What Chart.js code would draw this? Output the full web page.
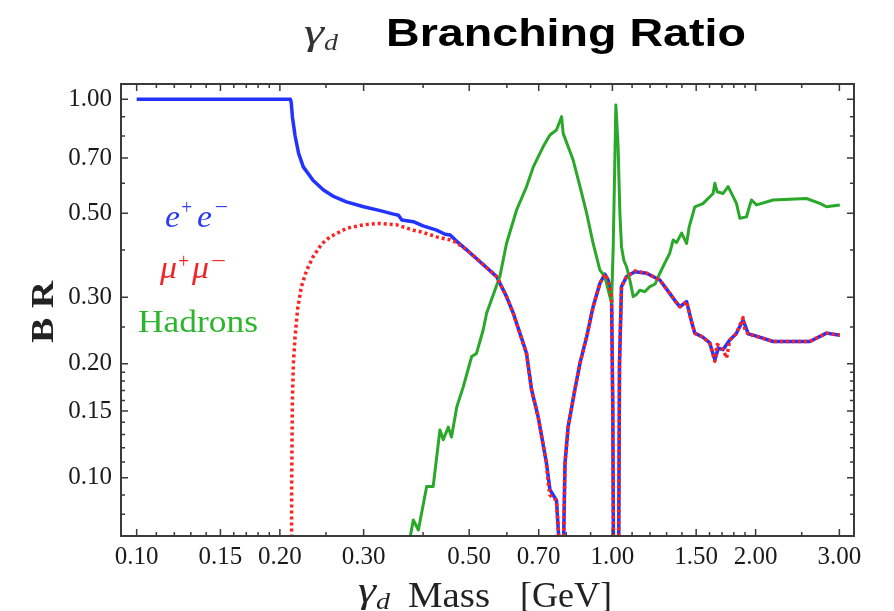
<!DOCTYPE html>
<html>
<head>
<meta charset="UTF-8">
<title>Branching Ratio</title>
<script src="https://cdn.jsdelivr.net/npm/chart.js@4.4.1/dist/chart.umd.min.js"></script>
<style>
  html, body { margin:0; padding:0; background:#fff; }
</style>
</head>
<body>
<canvas id="brChart" width="894" height="611"></canvas>
<script>
// axis ticks
var xTickVals = [0.10, 0.15, 0.20, 0.30, 0.50, 0.70, 1.00, 1.50, 2.00, 3.00];
var yTickVals = [0.10, 0.15, 0.20, 0.30, 0.50, 0.70, 1.00];
var xMinorVals = [0.11, 0.12, 0.13, 0.14, 0.16, 0.17, 0.18, 0.19, 0.25, 0.4, 0.6, 0.8, 0.9, 1.1, 1.2, 1.3, 1.4, 1.6, 1.7, 1.8, 1.9, 2.5];
var yMinorVals = [0.08, 0.09, 0.11, 0.12, 0.13, 0.14, 0.16, 0.17, 0.18, 0.19, 0.25, 0.4, 0.6, 0.8, 0.9];

// e+e- (blue, solid)
var eeMass = [0.10, 0.15, 0.2105, 0.2113, 0.2125, 0.2153, 0.219, 0.224, 0.235, 0.247, 0.26, 0.276, 0.30, 0.325, 0.345,
  0.355, 0.361, 0.3815, 0.40, 0.427, 0.445, 0.456, 0.47, 0.494, 0.527, 0.571, 0.599, 0.619, 0.639, 0.660, 0.676,
  0.698, 0.727, 0.739, 0.763, 0.772, 0.782, 0.790, 0.795, 0.807, 0.834, 0.855, 0.883, 0.911, 0.941, 0.964, 0.98,
  0.996, 1.002, 1.006, 1.019, 1.03, 1.035, 1.045, 1.071, 1.115, 1.18, 1.258, 1.32, 1.364, 1.386, 1.432, 1.465,
  1.49, 1.55, 1.602, 1.642, 1.67, 1.709, 1.765, 1.82, 1.883, 1.93, 1.976, 2.177, 2.60, 2.818, 3.006];
var eeBR = [1.0, 1.0, 1.0, 0.98, 0.90, 0.80, 0.72, 0.663, 0.61, 0.576, 0.553, 0.536, 0.52, 0.508, 0.498,
  0.494, 0.480, 0.475, 0.463, 0.451, 0.440, 0.438, 0.422, 0.400, 0.372, 0.340, 0.301, 0.272, 0.241, 0.213, 0.171,
  0.145, 0.109, 0.093, 0.087, 0.068, 0.02, 0.07, 0.109, 0.136, 0.171, 0.201, 0.236, 0.283, 0.326, 0.345, 0.333,
  0.30, 0.15, 0.05, 0.01, 0.05, 0.2, 0.32, 0.340, 0.350, 0.347, 0.333, 0.307, 0.29, 0.283, 0.292, 0.26,
  0.241, 0.235, 0.227, 0.205, 0.22, 0.218, 0.231, 0.24, 0.261, 0.24, 0.238, 0.229, 0.229, 0.241, 0.238];

// mu+mu- (red, dotted)
var mumuMass = [0.2113, 0.2118, 0.2125, 0.2135, 0.2153, 0.218, 0.222, 0.228, 0.235, 0.245, 0.255, 0.276, 0.30,
  0.325, 0.352, 0.3815, 0.40, 0.427, 0.445, 0.456, 0.47, 0.494, 0.527, 0.571, 0.599, 0.619, 0.625, 0.639, 0.660,
  0.676, 0.698, 0.727, 0.732, 0.739, 0.763, 0.772, 0.782, 0.790, 0.795, 0.807, 0.834, 0.855, 0.883, 0.911, 0.941,
  0.964, 0.98, 0.996, 1.002, 1.006, 1.019, 1.03, 1.035, 1.045, 1.071, 1.115, 1.18, 1.258, 1.32, 1.364, 1.386,
  1.432, 1.465, 1.49, 1.55, 1.602, 1.642, 1.66, 1.709, 1.738, 1.765, 1.82, 1.883, 1.90, 1.945, 1.976, 2.177, 2.60,
  2.818, 3.006];
var mumuBR = [0.03, 0.10, 0.16, 0.20, 0.236, 0.28, 0.32, 0.355, 0.384, 0.415, 0.433, 0.456, 0.466,
  0.470, 0.466, 0.451, 0.445, 0.433, 0.428, 0.425, 0.418, 0.400, 0.372, 0.340, 0.301, 0.272, 0.262, 0.241, 0.213,
  0.171, 0.145, 0.109, 0.098, 0.090, 0.087, 0.068, 0.02, 0.07, 0.109, 0.136, 0.171, 0.201, 0.236, 0.283, 0.326,
  0.345, 0.333, 0.30, 0.15, 0.05, 0.01, 0.05, 0.2, 0.32, 0.340, 0.352, 0.347, 0.333, 0.307, 0.29, 0.283,
  0.292, 0.26, 0.241, 0.235, 0.227, 0.203, 0.225, 0.218, 0.207, 0.231, 0.24, 0.265, 0.245, 0.237, 0.238, 0.229, 0.229,
  0.241, 0.238];

// hadrons (green, solid)
var hadMass = [0.372, 0.3815, 0.391, 0.407, 0.420, 0.434, 0.441, 0.452, 0.459, 0.471, 0.486, 0.506, 0.518, 0.535,
  0.544, 0.580, 0.599, 0.629, 0.660, 0.682, 0.715, 0.739, 0.763, 0.782, 0.788, 0.827, 0.855, 0.883, 0.911, 0.941,
  0.964, 0.988, 0.996, 1.004, 1.017, 1.028, 1.037, 1.045, 1.057, 1.071, 1.09, 1.106, 1.124, 1.142, 1.17, 1.199,
  1.23, 1.258, 1.29, 1.32, 1.342, 1.364, 1.398, 1.432, 1.45, 1.49, 1.55, 1.628, 1.642, 1.66, 1.709, 1.751, 1.78,
  1.823, 1.853, 1.914, 1.94, 1.961, 2.009, 2.177, 2.558, 2.729, 2.818, 3.006];
var hadBR = [0.065, 0.0773, 0.0727, 0.0947, 0.0947, 0.1337, 0.126, 0.136, 0.128, 0.154, 0.174, 0.209, 0.213, 0.2456,
  0.272, 0.340, 0.416, 0.510, 0.588, 0.663, 0.749, 0.805, 0.83, 0.90, 0.813, 0.691, 0.588, 0.4996, 0.416, 0.354,
  0.34, 0.301, 0.29, 0.408, 0.966, 0.749, 0.5, 0.408, 0.375, 0.361, 0.33, 0.301, 0.305, 0.313, 0.31, 0.32,
  0.325, 0.347, 0.37, 0.392, 0.425, 0.418, 0.443, 0.416, 0.46, 0.52, 0.53, 0.564, 0.60, 0.57, 0.564, 0.588, 0.564,
  0.531, 0.485, 0.489, 0.52, 0.542, 0.526, 0.542, 0.547, 0.531, 0.52, 0.526];

function pts(m, v) {
  return m.map(function(x, i){ return {x: x, y: v[i]}; });
}

// text, stretched to a given width if w is set
function txt(ctx, s, x, y, font, color, w) {
  ctx.font = font;
  ctx.fillStyle = color;
  var m = ctx.measureText(s).width;
  var sx = w ? w / m : 1;
  ctx.save();
  ctx.translate(x, y);
  ctx.scale(sx, 1);
  ctx.fillText(s, 0, 0);
  ctx.restore();
}

var decor = {
  id: 'decor',
  afterDraw: function(chart) {
    var ctx = chart.ctx, a = chart.chartArea;
    var xs = chart.scales.x, ys = chart.scales.y;
    ctx.save();
    ctx.strokeStyle = '#3a3a3a';
    ctx.lineWidth = 2;
    ctx.strokeRect(a.left, a.top, a.right - a.left, a.bottom - a.top);
    // inward ticks on all four sides
    ctx.lineWidth = 1.5;
    ctx.beginPath();
    function xt(v, len) {
      var p = xs.getPixelForValue(v);
      ctx.moveTo(p, a.bottom); ctx.lineTo(p, a.bottom - len);
      ctx.moveTo(p, a.top); ctx.lineTo(p, a.top + len);
    }
    function yt(v, len) {
      var p = ys.getPixelForValue(v);
      ctx.moveTo(a.left, p); ctx.lineTo(a.left + len, p);
      ctx.moveTo(a.right, p); ctx.lineTo(a.right - len, p);
    }
    xTickVals.forEach(function(v){ xt(v, 7); });
    xMinorVals.forEach(function(v){ xt(v, 4); });
    yTickVals.forEach(function(v){ yt(v, 7); });
    yMinorVals.forEach(function(v){ yt(v, 4); });
    ctx.stroke();

    ctx.textAlign = 'left';
    ctx.textBaseline = 'alphabetic';
    // title
    txt(ctx, 'γ', 304, 44, 'italic 36px "Liberation Serif"', '#333', 20);
    txt(ctx, 'd', 324, 50, 'italic 24px "Liberation Serif"', '#333', 14);
    txt(ctx, 'Branching Ratio', 386, 46, 'bold 39px "Liberation Sans"', '#000', 360);

    // inline legend
    var bl = '#2b3cf5', rd = '#f52222', gr = '#2db52d';
    txt(ctx, 'e', 165, 227, 'italic 32px "Liberation Serif"', bl, 15);
    txt(ctx, '+', 180, 214, 'italic 22px "Liberation Serif"', bl, 13);
    txt(ctx, 'e', 197, 227, 'italic 32px "Liberation Serif"', bl, 15);
    txt(ctx, '\u2212', 213, 214, 'italic 22px "Liberation Serif"', bl, 16);
    txt(ctx, 'μ', 160, 278, 'italic 32px "Liberation Serif"', rd, 17);
    txt(ctx, '+', 177, 268, 'italic 22px "Liberation Serif"', rd, 13);
    txt(ctx, 'μ', 192, 278, 'italic 32px "Liberation Serif"', rd, 17);
    txt(ctx, '\u2212', 209, 268, 'italic 22px "Liberation Serif"', rd, 18);
    txt(ctx, 'Hadrons', 138, 332, '32px "Liberation Serif"', gr, 120);

    // x axis title
    txt(ctx, 'γ', 358, 602, 'italic 36px "Liberation Serif"', '#222', 18);
    txt(ctx, 'd', 376, 609, 'italic 24px "Liberation Serif"', '#222', 14);
    txt(ctx, 'Mass', 408, 607, '36px "Liberation Serif"', '#222', 82);
    txt(ctx, '[GeV]', 520, 607, '36px "Liberation Serif"', '#222', 92);

    // y axis title
    ctx.save();
    ctx.translate(53, 343);
    ctx.rotate(-Math.PI / 2);
    txt(ctx, 'B R', 0, 0, 'bold 31px "Liberation Serif"', '#222', 62);
    ctx.restore();
    ctx.restore();
  }
};

var tickFont = {family: 'Liberation Serif', size: 25};

var ctx = document.getElementById('brChart').getContext('2d');
var brChart = new Chart(ctx, {
  type: 'line',
  data: {
    datasets: [
      {label: 'mu+mu-', data: pts(mumuMass, mumuBR), borderColor: '#ff2020', borderWidth: 3.5,
        borderDash: [3, 3], pointRadius: 0, order: 0},
      {label: 'Hadrons', data: pts(hadMass, hadBR), borderColor: '#2aa82a', borderWidth: 3,
        pointRadius: 0, order: 1},
      {label: 'e+e-', data: pts(eeMass, eeBR), borderColor: '#2233ff', borderWidth: 3.5,
        pointRadius: 0, order: 2}
    ]
  },
  options: {
    responsive: false,
    animation: false,
    devicePixelRatio: 1,
    layout: {padding: {top: 84, right: 40, left: 0, bottom: 0}},
    plugins: {legend: {display: false}, tooltip: {enabled: false}},
    elements: {line: {tension: 0, borderCapStyle: 'butt', borderJoinStyle: 'round'}},
    scales: {
      x: {
        type: 'logarithmic', min: 0.0927, max: 3.22, bounds: 'data',
        afterBuildTicks: function(s){ s.ticks = xTickVals.map(function(v){ return {value: v}; }); },
        afterFit: function(s){ s.height = 75; },
        grid: {display: false, drawTicks: false},
        border: {display: false},
        ticks: {autoSkip: false, maxRotation: 0, padding: 6, color: '#1a1a1a', font: tickFont,
          callback: function(v){ return Number(v).toFixed(2); }}
      },
      y: {
        type: 'logarithmic', min: 0.0701, max: 1.098, bounds: 'data',
        afterBuildTicks: function(s){ s.ticks = yTickVals.map(function(v){ return {value: v}; }); },
        afterFit: function(s){ s.width = 121; },
        grid: {display: false, drawTicks: false},
        border: {display: false},
        ticks: {autoSkip: false, padding: 9, color: '#1a1a1a', font: tickFont,
          callback: function(v){ return Number(v).toFixed(2); }}
      }
    }
  },
  plugins: [decor]
});
</script>
</body>
</html>
